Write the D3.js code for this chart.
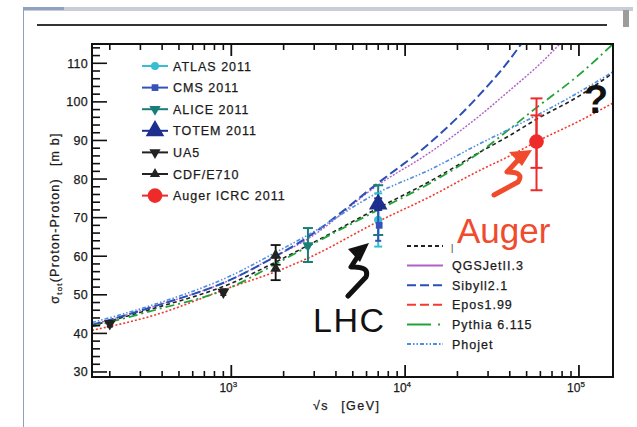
<!DOCTYPE html>
<html><head><meta charset="utf-8">
<script src="https://cdn.jsdelivr.net/npm/d3@7"></script>
<style>body{margin:0;background:#fff;} svg{display:block;font-family:"Liberation Sans",Arial,Helvetica,sans-serif;}</style>
</head><body><svg id="c" width="637" height="427"></svg>
<script>
// ---- model curves (sqrt(s) in GeV, sigma in mb) ----
const energies = [158, 360, 1000, 1800, 2760, 7000, 14000, 27000, 40000, 57000, 100000, 157000];
const qgsjet01 = [42, 46.5, 53, 58.5, 62.8, 72.5, 79.5, 87, 91.3, 95.5, 101.5, 107.5];
const qgsjetII = [42.2, 47, 54, 60, 64.5, 78.5, 87, 96.5, 103, 109, 120, 128];
const sibyll   = [42.2, 47, 54, 60, 65, 79, 89.5, 102, 111, 121, 142, 162];
const epos     = [40.8, 44.7, 52, 56, 59.5, 69, 75.5, 82.3, 86, 89.7, 95, 99.7];
const pythia   = [41.8, 46, 52, 58, 62.5, 72, 79, 87, 93, 98.5, 107, 115];
const phojet   = [42.8, 47.5, 55, 61, 65.5, 76.5, 82.5, 89.2, 93, 96.5, 102.5, 107.8];

// ---- measurements ----
const atlasE = [7000], atlasV = [69.4], atlasLo = [62.5], atlasHi = [76.3];
const cmsE = [7000], cmsV = [68.0], cmsLo = [64.0], cmsHi = [72.0];
const aliceE = [2760, 7000], aliceV = [62.8, 73.2], aliceLo = [58.5, 65.5], aliceHi = [67.3, 78.4];
const totemE = [7000], totemV = [73.5], totemLo = [72.0], totemHi = [75.0];
const ua5E = [200, 900], ua5V = [42.5, 50.7], ua5Lo = [41.7, 49.9], ua5Hi = [43.3, 51.5];
const cdfE = [1800, 1800], cdfV = [60.3, 56.8], cdfLo = [57.8, 53.8], cdfHi = [62.9, 59.6];
const augerE = [57000], augerV = [89.7], augerStatLo = [82.9], augerStatHi = [96.5], augerLo = [77.1], augerHi = [100.9];

// ---- axis ticks ----
const yTicks = [30, 40, 50, 60, 70, 80, 90, 100, 110];
const xMajor = [1e3, 1e4, 1e5];
const xMajorLabels = ["3", "4", "5"];

const svg = d3.select("#c");
const x = d3.scaleLog().domain([158, 157000]).range([92, 613]);
const y = d3.scaleLinear().domain([28.7, 115]).range([377, 44]);

// window-like border
svg.append("rect").attr("x",23).attr("y",7).attr("width",610).attr("height",4).attr("fill","#c9ced6");
svg.append("rect").attr("x",24).attr("y",7).attr("width",40).attr("height",3).attr("fill","#6a86b4").attr("opacity",0.6);
svg.append("line").attr("x1",23.5).attr("x2",23.5).attr("y1",7).attr("y2",427).attr("stroke","#8da0c0").attr("stroke-width",1);
svg.append("rect").attr("x",623).attr("y",10).attr("width",6).attr("height",17).attr("fill","#9c9c9c");
// top rule
svg.append("line").attr("x1",37).attr("x2",607).attr("y1",25).attr("y2",25).attr("stroke","#333").attr("stroke-width",2);

// clip
svg.append("clipPath").attr("id","pc").append("rect").attr("x",92).attr("y",44).attr("width",521).attr("height",333);

const models = [
  {name:"", vals:qgsjet01, color:"#222", dash:"4,3", w:1.6, legDash:"4,3"},
  {name:"QGSJetII.3", vals:qgsjetII, color:"#b060c8", dash:"2,1.5", w:1.4, legDash:null},
  {name:"Sibyll2.1", vals:sibyll, color:"#2a4fb5", dash:"9,4", w:2, legDash:"9,4"},
  {name:"Epos1.99", vals:epos, color:"#f23a2e", dash:"2,2", w:1.6, legDash:"9,4"},
  {name:"Pythia 6.115", vals:pythia, color:"#22a33a", dash:"9,4,2,4", w:1.8, legDash:"24,7,2,20"},
  {name:"Phojet", vals:phojet, color:"#4d8ee0", dash:"4,2,1.5,2,1.5,2", w:1.6, legDash:"4,2,1.5,2,1.5,2"}
];
const line = d3.line().x(d=>x(d[0])).y(d=>y(d[1])).curve(d3.curveMonotoneX);
const gc = svg.append("g").attr("clip-path","url(#pc)");
models.forEach(m=>{
  gc.append("path").attr("d", line(energies.map((e,i)=>[e,m.vals[i]])))
    .attr("fill","none").attr("stroke",m.color).attr("stroke-width",m.w).attr("stroke-dasharray",m.dash);
});

// frame & ticks
const ax = svg.append("g").attr("stroke","#111");
ax.append("rect").attr("x",92).attr("y",44).attr("width",521).attr("height",333).attr("fill","none").attr("stroke-width",2);
for (let v=30; v<=114; v+=2){
  const major = v%10===0;
  ax.append("line").attr("x1",92).attr("x2",92+(major?15:8)).attr("y1",y(v)).attr("y2",y(v)).attr("stroke-width",1.6);
}
const xMinor=[];
[100,1000,10000,100000].forEach(d=>{for(let k=2;k<=9;k++){const v=d*k; if(v>158&&v<157000) xMinor.push(v);}});
xMinor.forEach(v=>{
  ax.append("line").attr("x1",x(v)).attr("x2",x(v)).attr("y1",377).attr("y2",371).attr("stroke-width",1.6);
  ax.append("line").attr("x1",x(v)).attr("x2",x(v)).attr("y1",44).attr("y2",50).attr("stroke-width",1.6);
});
xMajor.forEach(v=>{
  ax.append("line").attr("x1",x(v)).attr("x2",x(v)).attr("y1",377).attr("y2",365).attr("stroke-width",1.8);
  ax.append("line").attr("x1",x(v)).attr("x2",x(v)).attr("y1",44).attr("y2",56).attr("stroke-width",1.8);
});

const txt = {fill:"#1a1a1a", stroke:"#1a1a1a", sw:0.25};
// y tick labels
yTicks.forEach(v=>{
  svg.append("text").attr("x",88).attr("y",y(v)+4.5).attr("text-anchor","end")
    .attr("font-size",12.5).attr("letter-spacing",0.3).attr("fill",txt.fill).attr("stroke",txt.stroke).attr("stroke-width",txt.sw).text(v);
});
// x tick labels
xMajor.forEach((v,i)=>{
  const t = svg.append("text").attr("x",x(v)-3).attr("y",392).attr("text-anchor","middle")
    .attr("font-size",12).attr("fill",txt.fill).attr("stroke",txt.stroke).attr("stroke-width",txt.sw);
  t.append("tspan").text("10");
  t.append("tspan").attr("dy",-5).attr("font-size",8).text(xMajorLabels[i]);
});
// axis titles
const xt = svg.append("text").attr("x",313).attr("y",410).attr("font-size",12.5).attr("letter-spacing",1.5)
  .attr("fill",txt.fill).attr("stroke",txt.stroke).attr("stroke-width",txt.sw);
xt.append("tspan").text("\u221As");
xt.append("tspan").attr("dx",12).text("[GeV]");
const yt = svg.append("text").attr("transform","translate(59,218) rotate(-90)").attr("text-anchor","middle")
  .attr("font-size",12.5).attr("letter-spacing",1.2).attr("fill",txt.fill).attr("stroke",txt.stroke).attr("stroke-width",txt.sw);
yt.append("tspan").text("\u03C3");
yt.append("tspan").attr("dy",3).attr("font-size",8).text("tot");
yt.append("tspan").attr("dy",-3).text("(Proton-Proton)");
yt.append("tspan").attr("dx",12).text("[m b]");

// ---- data points ----
const gd = svg.append("g");
function errbar(E, lo, hi, col, cap, w){
  E.forEach((e,i)=>{
    const px = x(e);
    gd.append("line").attr("x1",px).attr("x2",px).attr("y1",y(lo[i])).attr("y2",y(hi[i])).attr("stroke",col).attr("stroke-width",w);
    [lo[i],hi[i]].forEach(v=>gd.append("line").attr("x1",px-cap).attr("x2",px+cap).attr("y1",y(v)).attr("y2",y(v)).attr("stroke",col).attr("stroke-width",w));
  });
}
function sym(g, type, size, px, py, col, rot){
  g.append("path").attr("d", d3.symbol().type(type).size(size)())
    .attr("transform",`translate(${px},${py})${rot?" rotate(180)":""}`).attr("fill",col);
}
errbar(ua5E, ua5Lo, ua5Hi, "#111", 3, 1.5);
ua5E.forEach((e,i)=>sym(gd, d3.symbolTriangle, 60, x(e), y(ua5V[i]), "#222", true));
errbar(cdfE, cdfLo, cdfHi, "#111", 5, 1.8);
cdfE.forEach((e,i)=>sym(gd, d3.symbolTriangle, 50, x(e), y(cdfV[i]), "#222", false));
errbar(aliceE, aliceLo, aliceHi, "#177f78", 5, 2);
aliceE.forEach((e,i)=>sym(gd, d3.symbolTriangle, 55, x(e), y(aliceV[i]), "#177f78", true));
errbar(atlasE, atlasLo, atlasHi, "#35bfd0", 4, 2);
atlasE.forEach((e,i)=>sym(gd, d3.symbolCircle, 55, x(e), y(atlasV[i]), "#35bfd0", false));
errbar(cmsE, cmsLo, cmsHi, "#3552b8", 3, 2);
cmsE.forEach((e,i)=>sym(gd, d3.symbolSquare, 45, x(e)+1, y(cmsV[i]), "#3552b8", false));
errbar(totemE, totemLo, totemHi, "#1c2f8e", 4, 2);
totemE.forEach((e,i)=>sym(gd, d3.symbolTriangle, 150, x(e), y(totemV[i]), "#1c2f8e", false));
errbar(augerE, augerLo, augerHi, "#ee2a2a", 6, 2);
errbar(augerE, augerStatLo, augerStatHi, "#ee2a2a", 6, 2);
augerE.forEach((e,i)=>sym(gd, d3.symbolCircle, 170, x(e), y(augerV[i]), "#ee2a2a", false));

// ---- legend 1 (data) ----
const leg1 = [
  {t:"ATLAS 2011", c:"#35bfd0", s:d3.symbolCircle, sz:50, r:false},
  {t:"CMS 2011", c:"#3552b8", s:d3.symbolSquare, sz:45, r:false},
  {t:"ALICE 2011", c:"#177f78", s:d3.symbolTriangle, sz:55, r:true},
  {t:"TOTEM 2011", c:"#1c2f8e", s:d3.symbolTriangle, sz:150, r:false},
  {t:"UA5", c:"#222", s:d3.symbolTriangle, sz:55, r:true},
  {t:"CDF/E710", c:"#222", s:d3.symbolTriangle, sz:45, r:false},
  {t:"Auger ICRC 2011", c:"#ee2a2a", s:d3.symbolCircle, sz:170, r:false}
];
const gl1 = svg.append("g");
leg1.forEach((d,i)=>{
  const ly = 66 + i*21.6;
  gl1.append("line").attr("x1",142).attr("x2",168).attr("y1",ly).attr("y2",ly).attr("stroke",d.c).attr("stroke-width",2);
  sym(gl1, d.s, d.sz, 155, ly, d.c, d.r);
  gl1.append("text").attr("x",173).attr("y",ly+4.5).attr("font-size",12.5).attr("letter-spacing",1)
    .attr("fill",txt.fill).attr("stroke",txt.stroke).attr("stroke-width",txt.sw).text(d.t);
});

// ---- legend 2 (models) ----
const gl2 = svg.append("g");
models.forEach((m,i)=>{
  const ly = 246 + i*19.6;
  gl2.append("line").attr("x1",407).attr("x2",443).attr("y1",ly).attr("y2",ly).attr("stroke",m.color)
    .attr("stroke-width",2).attr("stroke-dasharray",m.legDash);
  if (m.name) gl2.append("text").attr("x",452).attr("y",ly+4.5).attr("font-size",12.5).attr("letter-spacing",1)
    .attr("fill",txt.fill).attr("stroke",txt.stroke).attr("stroke-width",txt.sw).text(m.name);
});
gl2.append("text").attr("x",451).attr("y",251).attr("font-size",9).attr("fill","#333").text("|");

// ---- annotations ----
svg.append("text").attr("x",313).attr("y",332).attr("font-size",34).attr("letter-spacing",1.5).attr("fill","#111").text("LHC");
svg.append("text").attr("x",457).attr("y",243).attr("font-size",35).attr("fill","#ef4b2c").text("Auger");
svg.append("text").attr("x",596).attr("y",113).attr("text-anchor","middle").attr("font-size",40).attr("font-weight","bold").attr("fill","#111").text("?");
// black squiggle arrow
svg.append("path").attr("d","M369,243 L348,249 L360,262 Z").attr("fill","#111");
svg.append("path").attr("d","M358,256 L351,267 Q370,266 366,277 L348,296").attr("fill","none").attr("stroke","#111").attr("stroke-width",5).attr("stroke-linecap","round").attr("stroke-linejoin","round");
// red squiggle arrow
svg.append("path").attr("d","M532,150 L509,152 L522,166 Z").attr("fill","#ef4b2c");
svg.append("path").attr("d","M519,159 L507,172 Q525,172 518,182 L494,195").attr("fill","none").attr("stroke","#ef4b2c").attr("stroke-width",5).attr("stroke-linecap","round").attr("stroke-linejoin","round");
</script></body></html>
